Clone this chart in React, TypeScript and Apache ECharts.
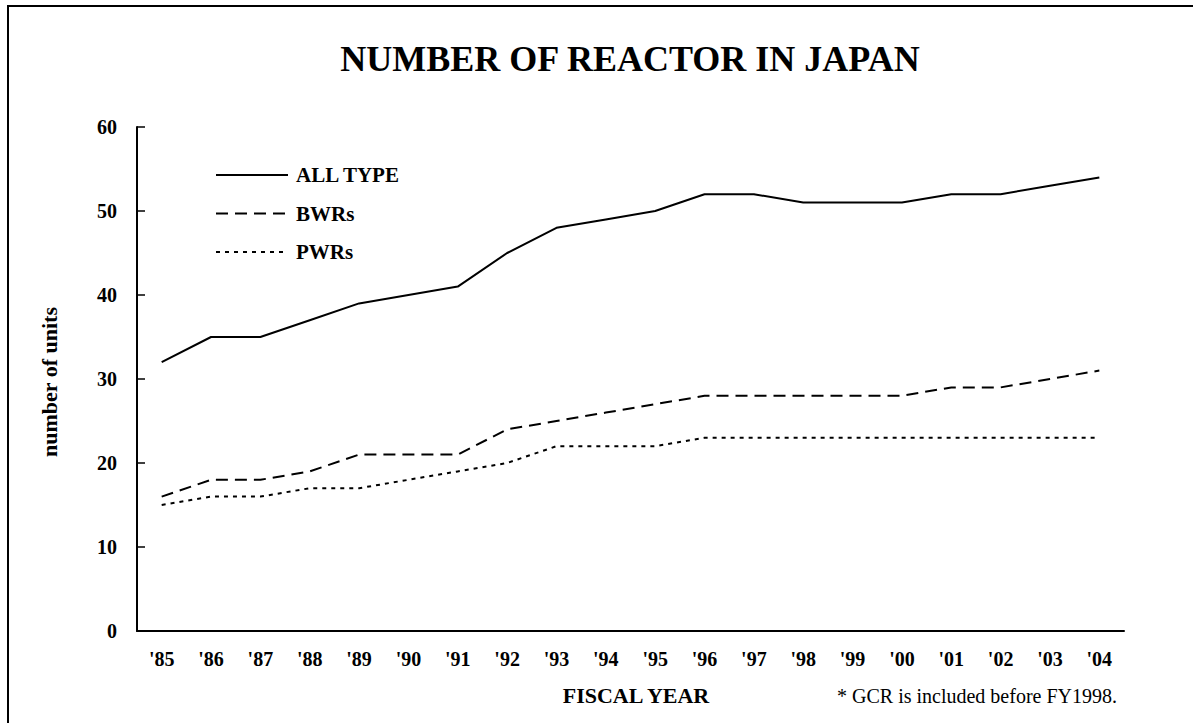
import React, { useEffect, useRef } from "react";
import * as echarts from "echarts";

const categories = ["'85", "'86", "'87", "'88", "'89", "'90", "'91", "'92", "'93", "'94", "'95", "'96", "'97", "'98", "'99", "'00", "'01", "'02", "'03", "'04"];
const allType = [32, 35, 35, 37, 39, 40, 41, 45, 48, 49, 50, 52, 52, 51, 51, 51, 52, 52, 53, 54];
const bwrs = [16, 18, 18, 19, 21, 21, 21, 24, 25, 26, 27, 28, 28, 28, 28, 28, 29, 29, 30, 31];
const pwrs = [15, 16, 16, 17, 17, 18, 19, 20, 22, 22, 22, 23, 23, 23, 23, 23, 23, 23, 23, 23];
const yTicks = { min: 0, max: 60, interval: 10 };

const FONT = "Liberation Serif";

export default function App() {
  const ref = useRef<HTMLDivElement>(null);
  useEffect(() => {
    if (!ref.current) return;
    const chart = echarts.init(ref.current, null, { renderer: "svg" });
    const lineSeries = (name: string, data: number[], type: any) => ({
      name,
      type: "line",
      data,
      symbol: "none",
      lineStyle: { color: "#000", width: 2, type },
      itemStyle: { color: "#000" },
    });
    chart.setOption({
      animation: false,
      backgroundColor: "#fff",
      textStyle: { fontFamily: FONT },
      grid: { left: 137, right: 69, top: 127, bottom: 92, containLabel: false },
      legend: {
        orient: "vertical",
        left: 215,
        top: 164.5,
        padding: 0,
        itemWidth: 72,
        itemHeight: 14,
        itemGap: 17.5,
        selectedMode: false,
        itemStyle: { opacity: 0, color: "transparent", borderWidth: 0 },
        textStyle: { fontFamily: FONT, fontWeight: "bold", fontSize: 21, color: "#000", padding: [0, 0, 0, 3] },
        data: ["ALL TYPE", "BWRs", "PWRs"],
      },
      xAxis: {
        type: "category",
        data: categories,
        boundaryGap: true,
        axisLine: { lineStyle: { color: "#000", width: 2 } },
        axisTick: { inside: true, length: 6, lineStyle: { color: "#000", width: 1.5 } },
        axisLabel: { color: "#000", fontWeight: "bold", fontSize: 20, fontFamily: FONT, margin: 18, interval: 0 },
        splitLine: { show: false },
      },
      yAxis: {
        type: "value",
        min: yTicks.min,
        max: yTicks.max,
        interval: yTicks.interval,
        axisLine: { show: true, lineStyle: { color: "#000", width: 2 } },
        axisTick: { show: true, inside: true, length: 8, lineStyle: { color: "#000", width: 1.5 } },
        axisLabel: { color: "#000", fontWeight: "bold", fontSize: 20, fontFamily: FONT, margin: 20 },
        splitLine: { show: false },
      },
      series: [
        lineSeries("ALL TYPE", allType, "solid"),
        lineSeries("BWRs", bwrs, [12, 7]),
        lineSeries("PWRs", pwrs, [4, 5]),
      ],
      graphic: [
        {
          type: "rect",
          shape: { x: 8, y: 6, width: 1300, height: 800 },
          style: { fill: "none", stroke: "#000", lineWidth: 2 },
          silent: true,
          z: -10,
        },
        {
          type: "text",
          x: 630,
          y: 59,
          style: { text: "NUMBER OF REACTOR IN JAPAN", fontFamily: FONT, fontWeight: "bold", fontSize: 36, fill: "#000", align: "center", verticalAlign: "middle" },
        },
        {
          type: "text",
          x: 49,
          y: 382,
          rotation: Math.PI / 2,
          style: { text: "number of units", fontFamily: FONT, fontWeight: "bold", fontSize: 22, fill: "#000", align: "center", verticalAlign: "middle" },
        },
        {
          type: "text",
          x: 636,
          y: 695,
          style: { text: "FISCAL YEAR", fontFamily: FONT, fontWeight: "bold", fontSize: 22, fill: "#000", align: "center", verticalAlign: "middle" },
        },
        {
          type: "text",
          x: 1117,
          y: 696,
          style: { text: "* GCR is included before FY1998.", fontFamily: FONT, fontSize: 20, fill: "#000", align: "right", verticalAlign: "middle" },
        },
      ],
    });
    return () => chart.dispose();
  }, []);
  return <div ref={ref} style={{ position: "fixed", left: 0, top: 0, width: 1193, height: 723 }} />;
}
